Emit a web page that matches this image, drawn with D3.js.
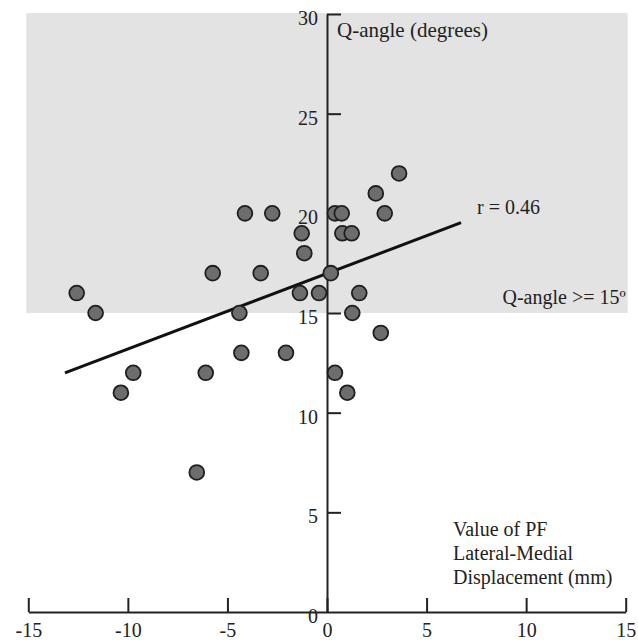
<!DOCTYPE html>
<html>
<head>
<meta charset="utf-8">
<script src="https://cdn.jsdelivr.net/npm/d3@7"></script>
<style>
  html, body { margin: 0; padding: 0; background: #fff; }
  svg { display: block; }
  text { font-family: "Liberation Serif", "Times New Roman", serif; fill: #222; }
</style>
</head>
<body>
<svg id="chart" width="638" height="640"></svg>
<script>
// ---- data ----
const displacement = [-12.57, -11.62, -9.73, -10.35, -6.54, -6.09, -5.74, -4.12, -2.75, -3.33,
                      -4.40, -4.30, -2.06, -1.27, -1.14, -1.36, -0.40, 3.62, 2.45, 2.90,
                      0.40, 0.74, 0.77, 1.24, 0.19, 1.62, 1.27, 2.70, 0.40, 1.02];
const qAngle       = [16, 15, 12, 11, 7, 12, 17, 20, 20, 17,
                      15, 13, 13, 19, 18, 16, 16, 22, 21, 20,
                      20, 20, 19, 19, 17, 16, 15, 14, 12, 11];
const fitX = [-13.16, 6.73];
const fitY = [12.0, 19.53];
const xTicks = [-15, -10, -5, 0, 5, 10, 15];
const yTicks = [0, 5, 10, 15, 20, 25, 30];
const bandRange = [15, 30];
const bandX = [-15.1, 15.1];
const xLabelLines = ["Value of PF", "Lateral-Medial", "Displacement (mm)"];
const yLabel = "Q-angle (degrees)";
const rLabel = "r = 0.46";
const bandLabel = "Q-angle >= 15º";

// ---- scales ----
const x = d3.scaleLinear().domain([-15, 15]).range([28.3, 625.7]);
const y = d3.scaleLinear().domain([0, 30]).range([612, 14]);

const svg = d3.select("#chart");

// band
svg.append("rect")
  .attr("x", x(bandX[0]))
  .attr("y", y(bandRange[1]) - 1)
  .attr("width", x(bandX[1]) - x(bandX[0]))
  .attr("height", y(bandRange[0]) - y(bandRange[1]) + 1)
  .attr("fill", "#e3e3e3");

// x axis
const gx = svg.append("g")
  .attr("transform", `translate(0,${y(0)})`)
  .call(d3.axisBottom(x).tickValues(xTicks).tickFormat(d3.format("d"))
        .tickSize(-14).tickSizeOuter(0).tickPadding(11));
// y axis
const gy = svg.append("g")
  .attr("transform", `translate(${x(0)},0)`)
  .call(d3.axisLeft(y).tickValues(yTicks).tickFormat(d3.format("d"))
        .tickSize(-14).tickSizeOuter(0).tickPadding(9));

[gx, gy].forEach(g => {
  g.selectAll("path.domain").attr("stroke", "#222").attr("stroke-width", 2);
  g.selectAll(".tick line").attr("stroke", "#222").attr("stroke-width", 2);
  g.selectAll(".tick text")
    .attr("font-family", "Liberation Serif, Times New Roman, serif")
    .attr("font-size", 20).attr("fill", "#222");
});
gx.selectAll(".tick text").text(d => d < 0 ? "-" + Math.abs(d) : d);
gy.selectAll(".tick text").attr("dy", "0.53em");
gy.selectAll(".tick").filter(d => d === 0).select("line").remove();

// regression line
svg.append("line")
  .attr("x1", x(fitX[0])).attr("y1", y(fitY[0]))
  .attr("x2", x(fitX[1])).attr("y2", y(fitY[1]))
  .attr("stroke", "#111").attr("stroke-width", 3);

// points
svg.append("g").selectAll("circle")
  .data(displacement.map((d, i) => [d, qAngle[i]]))
  .join("circle")
  .attr("cx", d => x(d[0]))
  .attr("cy", d => y(d[1]))
  .attr("r", 7.4)
  .attr("fill", "#6d6d6d")
  .attr("stroke", "#1e1e1e")
  .attr("stroke-width", 1.8);

// text labels
svg.append("text").attr("x", 337).attr("y", 37).attr("font-size", 21).text(yLabel);
svg.append("text").attr("x", 477).attr("y", 214).attr("font-size", 20).text(rLabel);
svg.append("text").attr("x", 625.7).attr("y", 303.5).attr("font-size", 20)
  .attr("text-anchor", "end").text(bandLabel);
svg.append("g").selectAll("text")
  .data(xLabelLines)
  .join("text")
  .attr("x", 453)
  .attr("y", (d, i) => 536 + i * 24)
  .attr("font-size", 20)
  .text(d => d);
</script>
</body>
</html>
